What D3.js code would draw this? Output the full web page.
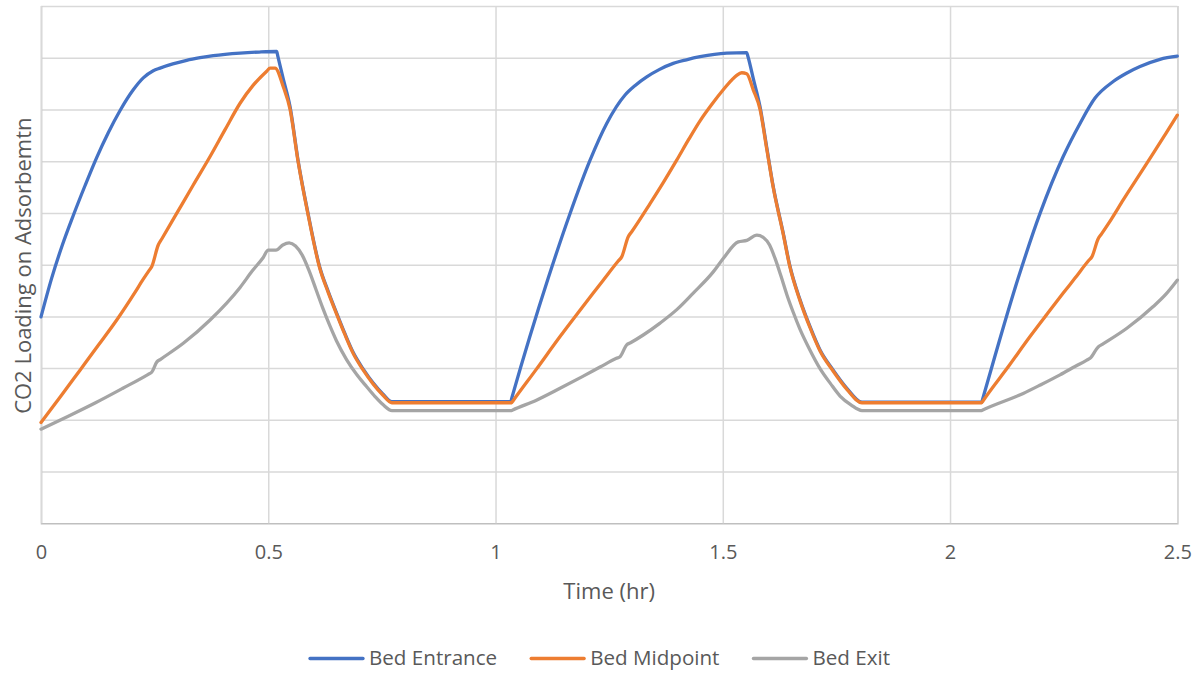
<!DOCTYPE html>
<html>
<head>
<meta charset="utf-8">
<script src="https://cdn.jsdelivr.net/npm/d3@7"></script>
<style>
  body { margin: 0; background: #fff; }
  text { font-family: "Open Sans", sans-serif; fill: #595959; }
</style>
</head>
<body>
<svg id="chart" width="1202" height="675"></svg>
<script>
'use strict'

// series names + x ticks
const seriesNames = ["Bed Entrance", "Bed Midpoint", "Bed Exit"]
const xTicks = [0, 0.5, 1, 1.5, 2, 2.5]
const yGrid = [1, 2, 3, 4, 5, 6, 7, 8, 9, 10]

// [time (hr), loading]
const bedEntrance = [
	[0, 3.99], [0.0235, 4.74], [0.047, 5.38], [0.071, 5.95], [0.097, 6.53], [0.1225, 7.07],
	[0.148, 7.55], [0.174, 7.98], [0.203, 8.38], [0.225, 8.61], [0.247, 8.75], [0.262, 8.8],
	[0.29, 8.88], [0.3205, 8.95], [0.35, 9.0], [0.379, 9.04], [0.438, 9.09], [0.48, 9.11],
	[0.5185, 9.12], [0.521, 9.03], [0.533, 8.59], [0.548, 8.05], [0.5655, 7.02], [0.5875, 5.99],
	[0.613, 4.96], [0.632, 4.48], [0.6506, 4.06], [0.668, 3.68], [0.687, 3.3], [0.709, 2.98],
	[0.731, 2.71], [0.752, 2.5], [0.772, 2.35], [1.0334, 2.35], [1.036, 2.43],
	[1.116, 4.74], [1.164, 5.99], [1.208, 7.02], [1.2446, 7.73], [1.285, 8.28], [1.308, 8.47],
	[1.3327, 8.63], [1.36, 8.77], [1.391, 8.89], [1.42, 8.96], [1.45, 9.02], [1.5087, 9.09],
	[1.5526, 9.1], [1.5555, 9.02], [1.567, 8.6], [1.582, 8.05], [1.597, 7.25], [1.611, 6.51],
	[1.633, 5.61], [1.647, 5.0], [1.67, 4.32], [1.692, 3.8], [1.714, 3.35], [1.743, 2.96],
	[1.773, 2.61], [1.806, 2.34], [2.0697, 2.34], [2.072, 2.41],
	[2.15, 4.74], [2.198, 5.99], [2.249, 7.09], [2.286, 7.73], [2.319, 8.22], [2.359, 8.54],
	[2.388, 8.7], [2.418, 8.83], [2.462, 8.97], [2.5, 9.03]
]

const bedMidpoint = [
	[0, 1.95], [0.043, 2.45], [0.0858, 2.96], [0.126, 3.44], [0.1666, 3.93], [0.205, 4.44],
	[0.225, 4.72], [0.238, 4.89], [0.2435, 4.96], [0.258, 5.38], [0.266, 5.5], [0.2985, 5.99],
	[0.335, 6.54], [0.372, 7.09], [0.405, 7.61], [0.438, 8.12], [0.467, 8.47], [0.4966, 8.74],
	[0.504, 8.8], [0.515, 8.8], [0.533, 8.44], [0.548, 8.0], [0.5655, 7.0], [0.5875, 5.97],
	[0.613, 4.94], [0.632, 4.46], [0.6506, 4.04], [0.668, 3.66], [0.687, 3.28], [0.709, 2.96],
	[0.731, 2.69], [0.752, 2.48], [0.772, 2.33], [1.0356, 2.33], [1.038, 2.36],
	[1.09, 2.98], [1.142, 3.61], [1.18, 4.05], [1.215, 4.45], [1.237, 4.7], [1.27, 5.07],
	[1.2776, 5.15], [1.292, 5.54], [1.3, 5.64], [1.34, 6.18], [1.37, 6.6], [1.3986, 7.02],
	[1.425, 7.42], [1.45, 7.78], [1.476, 8.1], [1.501, 8.38], [1.52, 8.57], [1.5306, 8.66],
	[1.5416, 8.71], [1.5526, 8.69], [1.567, 8.38], [1.582, 8.0], [1.597, 7.22], [1.611, 6.49],
	[1.633, 5.59], [1.647, 4.98], [1.67, 4.3], [1.692, 3.78], [1.714, 3.33], [1.743, 2.94],
	[1.773, 2.59], [1.806, 2.33], [2.0697, 2.33], [2.072, 2.36],
	[2.13, 3.05], [2.176, 3.61], [2.214, 4.05], [2.249, 4.45], [2.275, 4.74], [2.305, 5.08],
	[2.312, 5.15], [2.326, 5.5], [2.333, 5.59], [2.355, 5.88], [2.381, 6.25], [2.414, 6.7],
	[2.447, 7.15], [2.475, 7.54], [2.5, 7.89]
]

const bedExit = [
	[0, 1.82], [0.06, 2.07], [0.12, 2.33], [0.18, 2.61], [0.236, 2.88], [0.2435, 2.92],
	[0.255, 3.12], [0.263, 3.17], [0.313, 3.48], [0.372, 3.93], [0.438, 4.56], [0.465, 4.88],
	[0.489, 5.14], [0.5, 5.28], [0.517, 5.28], [0.532, 5.38], [0.546, 5.42], [0.56, 5.36],
	[0.575, 5.18], [0.59, 4.88], [0.605, 4.52], [0.62, 4.16], [0.635, 3.83], [0.65, 3.53],
	[0.6726, 3.16], [0.695, 2.87], [0.7166, 2.64], [0.735, 2.45], [0.753, 2.29], [0.772, 2.18],
	[1.0356, 2.18], [1.038, 2.19],
	[1.09, 2.38], [1.142, 2.61], [1.19, 2.83], [1.23, 3.02], [1.266, 3.19], [1.274, 3.22],
	[1.2886, 3.45], [1.297, 3.49], [1.325, 3.64], [1.362, 3.87], [1.4, 4.14], [1.435, 4.45],
	[1.479, 4.86], [1.501, 5.12], [1.534, 5.44], [1.553, 5.47], [1.575, 5.57], [1.59, 5.52],
	[1.603, 5.38], [1.615, 5.12], [1.628, 4.78], [1.641, 4.42], [1.655, 4.08], [1.67, 3.75],
	[1.69, 3.38], [1.714, 2.99], [1.737, 2.7], [1.758, 2.46], [1.782, 2.29], [1.806, 2.18],
	[2.0697, 2.18], [2.072, 2.19],
	[2.161, 2.51], [2.2, 2.68], [2.242, 2.87], [2.275, 3.03], [2.3, 3.15], [2.308, 3.19],
	[2.326, 3.41], [2.335, 3.46], [2.389, 3.77], [2.447, 4.19], [2.475, 4.43], [2.5, 4.7]
]

const allSeries = [bedEntrance, bedMidpoint, bedExit]

let svg = d3.select("#chart")
let margin = {left: 41, right: 24.7, top: 6, bottom: 151.7}
let width = 1202 - margin.left - margin.right
let height = 675 - margin.top - margin.bottom

let color = d3.scaleOrdinal().domain(seriesNames).range(["#4472c4", "#ed7d31", "#a5a5a5"])
let x = d3.scaleLinear().domain([0, 2.5]).range([margin.left, margin.left + width])
let y = d3.scaleLinear().domain([0, 10]).range([margin.top + height, margin.top])

// gridlines
svg.append("g")
	.attr("transform", "translate(" + margin.left + ",0)")
	.call(d3.axisLeft(y).tickValues(yGrid).tickSize(-width).tickFormat(""))
	.call(g => g.select(".domain").remove())
	.selectAll("line").attr("stroke", "#d9d9d9").attr("stroke-width", 1.5)

let xg = svg.append("g")
	.attr("transform", "translate(0," + (margin.top + height) + ")")
	.call(d3.axisBottom(x).tickValues(xTicks).tickSize(-height).tickPadding(22).tickFormat(d3.format("")))
xg.select(".domain").attr("stroke", "#bfbfbf").attr("stroke-width", 1.5)
xg.selectAll("line").attr("stroke", "#d9d9d9").attr("stroke-width", 1.5)
xg.selectAll("text").attr("fill", "#595959").style("font-size", "20px").style("font-family", '"Open Sans", sans-serif')

// lines
let line = d3.line()
	.x(function(d){ return x(d[0]) })
	.y(function(d){ return y(d[1]) })
	.curve(d3.curveMonotoneX)

allSeries.forEach(function(s, i){
	svg.append("path")
		.datum(s)
		.attr("fill", "none")
		.attr("stroke", color(seriesNames[i]))
		.attr("stroke-width", 3.3)
		.attr("stroke-linejoin", "round")
		.attr("stroke-linecap", "round")
		.attr("d", line)
})

// axis titles
svg.append("text")
	.attr("x", margin.left + width / 2)
	.attr("y", 599)
	.attr("text-anchor", "middle")
	.style("font-size", "22px")
	.text("Time (hr)")

svg.append("text")
	.attr("transform", "translate(31," + (margin.top + height / 2 + 1) + ") rotate(-90)")
	.attr("text-anchor", "middle")
	.style("font-size", "22px")
	.text("CO2 Loading on Adsorbemtn")

// legend
let legend = svg.append("g").attr("transform", "translate(310,665)")
let lx = 0
seriesNames.forEach(function(name){
	let item = legend.append("g").attr("transform", "translate(" + lx + ",0)")
	item.append("line")
		.attr("x1", 0).attr("x2", 53)
		.attr("y1", -6.5).attr("y2", -6.5)
		.attr("stroke", color(name))
		.attr("stroke-width", 3.3)
		.attr("stroke-linecap", "round")
	let t = item.append("text")
		.attr("x", 59)
		.style("font-size", "20.6px")
		.text(name)
	lx += 59 + t.node().getComputedTextLength() + 34
})
</script>
</body>
</html>
